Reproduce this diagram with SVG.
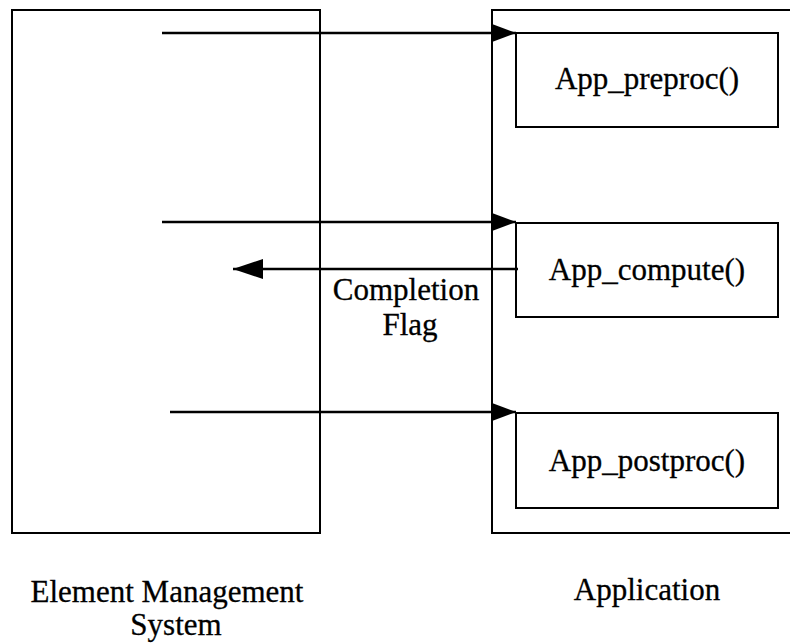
<svg xmlns="http://www.w3.org/2000/svg" width="790" height="643" viewBox="0 0 790 643">
<style>
.box{fill:none;stroke:#000;stroke-width:2}
.conn{fill:none;stroke:#000;stroke-width:2.5}
text{font-family:"Liberation Serif","Times New Roman",serif;fill:#000;text-anchor:middle;stroke:#000;stroke-width:0.3}
.fn{font-size:31px}
.lbl{font-size:31px}
</style>
<defs>
<marker id="ah" markerUnits="userSpaceOnUse" markerWidth="26" markerHeight="20" refX="24" refY="9" orient="auto">
<path d="M0,0 L24,9 L0,18 Z" fill="#000"/>
</marker>
<marker id="ahb" markerUnits="userSpaceOnUse" markerWidth="32" markerHeight="22" refX="30" refY="10" orient="auto">
<path d="M0,0 L30,10 L0,20 Z" fill="#000"/>
</marker>
</defs>
<rect width="790" height="643" fill="#fff"/>
<g id="ems">
<rect class="box" x="12" y="10" width="308" height="523"/>
<text class="lbl" x="167" y="602">Element Management</text>
<text class="lbl" x="176" y="635">System</text>
</g>
<g id="application">
<path class="box" d="M800,10 H492 V533 H800"/>
<text class="lbl" x="647" y="600">Application</text>
</g>
<g id="app_preproc">
<rect class="box" x="516" y="33" width="262" height="94"/>
<text class="fn" x="647" y="89">App_preproc()</text>
</g>
<g id="app_compute">
<rect class="box" x="516" y="223" width="262" height="94"/>
<text class="fn" x="647" y="280">App_compute()</text>
</g>
<g id="app_postproc">
<rect class="box" x="516" y="413" width="262" height="95"/>
<text class="fn" x="647" y="471">App_postproc()</text>
</g>
<g id="connectors">
<line class="conn" x1="162" y1="33" x2="516" y2="33" marker-end="url(#ah)"/>
<line class="conn" x1="162" y1="222" x2="516" y2="222" marker-end="url(#ah)"/>
<line class="conn" x1="518" y1="269" x2="233" y2="269" marker-end="url(#ahb)"/>
<line class="conn" x1="170" y1="412" x2="516" y2="412" marker-end="url(#ah)"/>
<text class="lbl" x="406" y="300">Completion</text>
<text class="lbl" x="410" y="335">Flag</text>
</g>
</svg>
